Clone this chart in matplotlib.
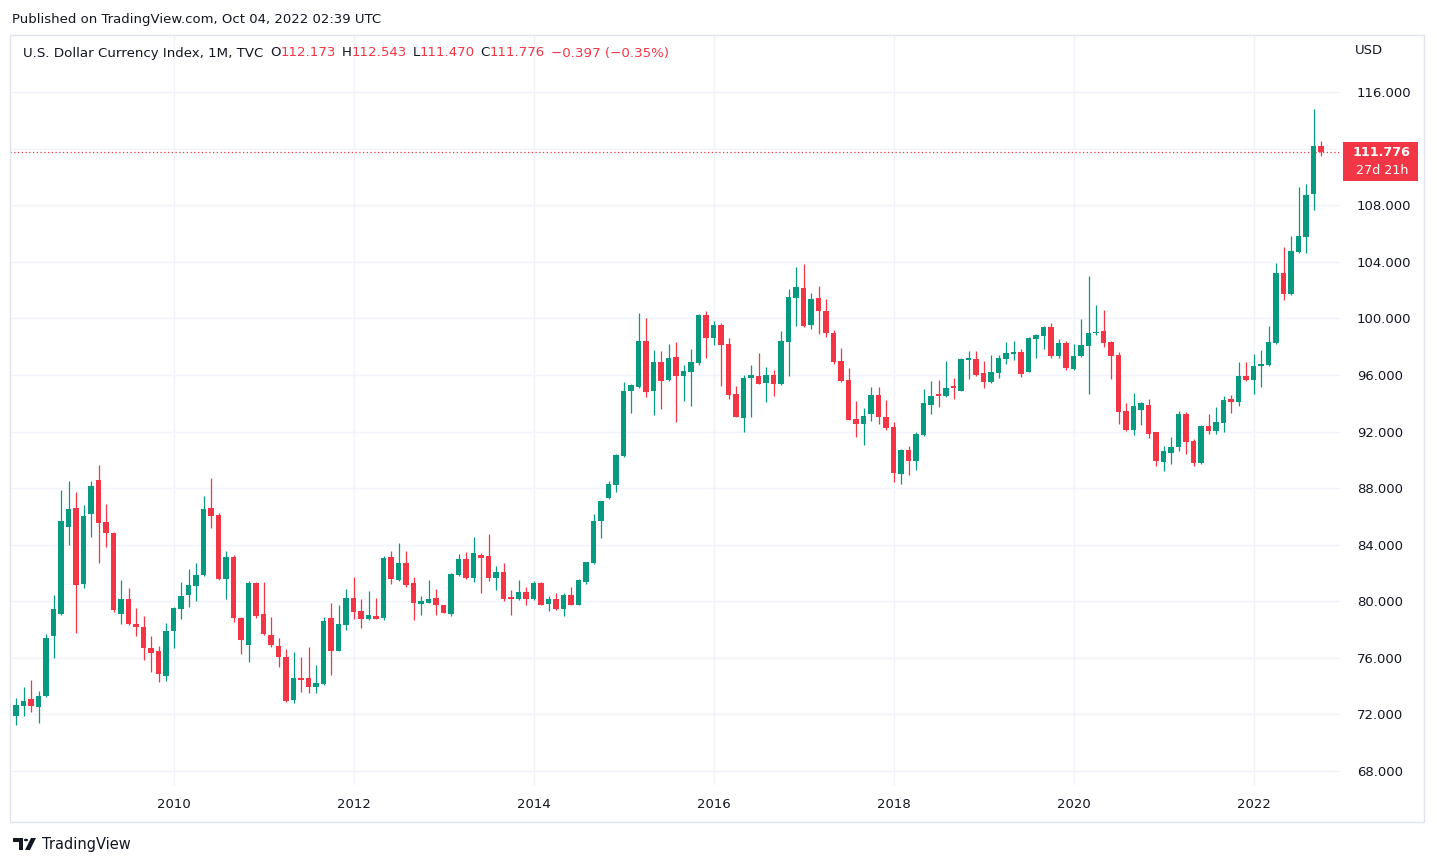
import numpy as np
import matplotlib
matplotlib.use("Agg")
import matplotlib.pyplot as plt
from matplotlib.patches import Rectangle, Polygon, Circle

# DXY monthly candles, Apr 2008 .. Oct 2022
opens = [71.88, 72.59, 73.06, 72.52, 73.29, 77.53, 79.13, 85.22, 86.61, 81.20,
         86.14, 88.59, 85.62, 84.85, 79.08, 80.19, 78.42, 78.21, 76.73, 76.45,
         74.71, 77.88, 79.44, 80.42, 81.06, 81.84, 86.61, 86.12, 81.55, 83.15,
         78.85, 76.88, 81.26, 79.09, 77.63, 76.86, 76.09, 73.05, 74.56, 74.56,
         73.95, 74.16, 78.81, 76.51, 78.35, 80.21, 79.30, 78.76, 78.97, 78.81,
         83.11, 81.52, 82.69, 81.29, 79.84, 79.91, 80.23, 79.70, 79.13, 81.87,
         82.97, 81.66, 83.25, 83.18, 81.66, 82.06, 80.30, 80.16, 80.65, 80.16,
         81.29, 79.81, 80.16, 79.46, 80.44, 79.74, 81.36, 82.69, 85.70, 87.28,
         88.22, 90.26, 94.84, 95.16, 98.40, 94.84, 96.92, 95.61, 97.28, 95.89,
         96.24, 96.85, 100.23, 98.64, 99.53, 98.18, 94.63, 92.96, 95.79, 95.91,
         95.44, 95.98, 95.34, 98.35, 101.47, 102.15, 99.55, 101.44, 100.52, 98.95,
         96.99, 95.65, 92.89, 92.53, 93.24, 94.58, 93.03, 92.32, 89.00, 90.69,
         89.92, 91.75, 93.88, 94.66, 94.51, 95.23, 94.85, 97.08, 97.15, 96.16,
         95.53, 96.16, 97.15, 97.50, 97.64, 96.23, 98.55, 98.76, 99.39, 97.31,
         98.25, 96.43, 97.33, 98.06, 98.98, 99.10, 98.32, 97.40, 93.43, 92.10,
         93.52, 93.85, 91.94, 89.83, 90.47, 90.90, 93.21, 91.30, 89.76, 92.36,
         92.01, 92.58, 94.28, 94.07, 95.91, 95.63, 96.62, 96.69, 98.25, 103.22,
         101.73, 104.71, 105.77, 108.81, 112.173]
highs = [73.18, 73.91, 74.40, 73.62, 77.65, 80.42, 87.88, 88.52, 87.74, 86.82,
         88.52, 89.65, 86.89, 84.92, 81.53, 80.96, 79.55, 78.99, 77.51, 76.87,
         78.49, 79.60, 81.39, 82.31, 82.73, 87.46, 88.73, 86.24, 83.55, 83.29,
         78.90, 81.42, 81.35, 81.35, 78.91, 77.42, 76.65, 76.44, 76.09, 76.79,
         75.47, 78.88, 79.86, 79.72, 80.86, 81.74, 80.14, 80.73, 80.23, 83.18,
         83.53, 84.09, 83.53, 81.71, 80.37, 81.50, 80.87, 79.72, 81.99, 83.32,
         83.46, 84.51, 83.39, 84.73, 82.48, 82.69, 80.80, 81.50, 81.00, 81.43,
         81.36, 80.37, 80.58, 80.58, 81.00, 81.57, 82.76, 86.20, 87.00, 88.47,
         90.38, 95.52, 95.38, 100.38, 100.02, 97.77, 97.70, 98.19, 98.33, 96.71,
         97.84, 100.31, 100.52, 99.81, 99.67, 98.60, 95.20, 95.98, 96.69, 97.54,
         96.55, 96.34, 99.10, 102.08, 103.64, 103.85, 101.80, 102.29, 101.37, 99.20,
         97.91, 96.50, 94.16, 93.67, 95.15, 95.15, 94.23, 92.67, 90.75, 90.98,
         91.97, 95.01, 95.58, 95.65, 96.99, 95.81, 97.20, 97.71, 97.71, 97.00,
         97.43, 97.43, 98.34, 98.41, 97.85, 98.69, 98.90, 99.46, 99.67, 98.55,
         98.39, 98.18, 99.95, 103.00, 100.95, 100.59, 98.40, 97.61, 94.00, 94.70,
         94.07, 94.28, 92.00, 90.95, 91.61, 93.43, 93.36, 91.44, 92.43, 93.21,
         93.71, 94.49, 94.56, 96.90, 96.90, 97.47, 97.75, 99.46, 103.92, 105.06,
         105.82, 109.28, 109.47, 114.80, 112.543]
lows = [71.22, 71.88, 72.16, 71.36, 73.20, 75.98, 79.01, 83.95, 77.74, 80.92,
        84.52, 82.68, 83.81, 79.22, 78.38, 78.31, 77.53, 75.88, 74.99, 74.26,
        74.35, 76.66, 78.73, 79.58, 80.05, 81.80, 85.15, 81.50, 80.14, 78.52,
        76.26, 75.70, 78.84, 77.60, 76.79, 75.33, 72.90, 72.84, 73.60, 73.53,
        73.53, 74.10, 74.79, 76.45, 78.00, 78.77, 78.14, 78.69, 78.74, 78.67,
        81.24, 81.45, 81.03, 78.64, 79.00, 79.88, 79.06, 79.18, 78.99, 81.80,
        81.60, 81.38, 80.56, 81.43, 80.80, 80.02, 79.04, 80.10, 79.74, 80.09,
        79.70, 79.32, 79.39, 78.97, 79.70, 79.70, 81.22, 82.65, 84.50, 87.21,
        87.72, 90.20, 93.29, 95.09, 94.46, 93.19, 93.62, 95.54, 92.65, 94.13,
        93.83, 96.67, 97.23, 98.08, 95.22, 94.30, 92.99, 91.96, 93.03, 95.34,
        94.09, 94.52, 95.30, 95.93, 99.46, 99.40, 99.27, 98.91, 98.70, 96.80,
        95.50, 92.80, 91.61, 91.05, 92.75, 92.53, 92.11, 88.43, 88.29, 88.92,
        89.28, 91.70, 93.24, 93.74, 94.44, 94.27, 94.83, 95.74, 95.95, 95.04,
        95.46, 95.81, 96.80, 97.08, 95.88, 96.20, 97.22, 97.85, 97.17, 97.17,
        96.34, 96.36, 97.30, 94.66, 98.84, 97.99, 95.72, 92.53, 92.03, 91.75,
        92.46, 91.54, 89.55, 89.20, 89.69, 90.61, 90.40, 89.55, 89.69, 91.80,
        91.80, 91.94, 93.29, 93.78, 95.56, 94.63, 95.13, 96.62, 98.20, 101.30,
        101.65, 104.65, 104.64, 107.68, 111.470]
closes = [72.64, 72.92, 72.59, 73.27, 77.41, 79.48, 85.69, 86.54, 81.13, 86.05,
          88.16, 85.51, 84.80, 79.36, 80.19, 78.38, 78.16, 76.68, 76.31, 74.85,
          77.93, 79.55, 80.40, 81.18, 81.88, 86.54, 86.00, 81.55, 83.15, 78.80,
          77.25, 81.26, 78.95, 77.70, 76.88, 76.05, 72.98, 74.56, 74.44, 73.95,
          74.21, 78.60, 76.47, 78.40, 80.21, 79.26, 78.77, 79.04, 78.76, 83.04,
          81.59, 82.69, 81.17, 79.91, 80.02, 80.16, 79.77, 79.20, 81.92, 82.97,
          81.66, 83.39, 83.06, 81.66, 82.06, 80.16, 80.16, 80.65, 80.16, 81.29,
          79.74, 80.16, 79.46, 80.44, 79.74, 81.50, 82.76, 85.64, 87.10, 88.26,
          90.31, 94.88, 95.31, 98.40, 94.77, 96.92, 95.54, 97.21, 95.89, 96.29,
          96.92, 100.23, 98.64, 99.53, 98.13, 94.59, 93.03, 95.77, 95.98, 95.39,
          95.98, 95.34, 98.39, 101.51, 102.22, 99.46, 101.37, 100.54, 98.98, 96.92,
          95.58, 92.82, 92.53, 93.10, 94.58, 93.03, 92.25, 89.07, 90.69, 89.92,
          91.83, 94.02, 94.51, 94.51, 95.08, 95.11, 97.15, 97.22, 96.02, 95.53,
          96.23, 97.22, 97.57, 97.64, 96.09, 98.62, 98.83, 99.39, 97.31, 98.27,
          96.50, 97.33, 98.11, 98.96, 99.05, 98.27, 97.35, 93.38, 92.10, 93.78,
          93.99, 91.82, 89.91, 90.59, 90.87, 93.22, 91.25, 89.76, 92.36, 92.01,
          92.65, 94.21, 94.07, 95.91, 95.63, 96.62, 96.76, 98.32, 103.22, 101.73,
          104.78, 105.82, 108.72, 112.18, 111.776]

first_year, first_month = 2008, 4
year_labels = [2010, 2012, 2014, 2016, 2018, 2020, 2022]
price_grid = [68, 72, 76, 80, 84, 88, 92, 96, 100, 104, 108, 112, 116]
# 112 is hidden behind the last-price tag
price_labels = [68, 72, 76, 80, 84, 88, 92, 96, 100, 104, 108, 116]
last_price = 111.776
countdown = "27d 21h"

UP = "#089981"
DOWN = "#F23645"
TEXT = "#131722"
GRID = "#f0f3fa"
BORDER = "#e0e3eb"

W, H = 1437, 866
fig = plt.figure(figsize=(W / 100, H / 100), dpi=100)
fig.patch.set_facecolor("white")


def fx(x):
    return x / W


def fy(y):
    return 1 - y / H


ax = fig.add_axes([fx(10), fy(785), fx(1340) - fx(10), fy(35) - fy(785)])

o = np.array(opens)
h = np.array(highs)
l = np.array(lows)
c = np.array(closes)
idx = np.arange(len(o))
cols = [UP if cc >= oo else DOWN for oo, cc in zip(o, c)]

# grid
for p in price_grid:
    ax.axhline(p, color=GRID, lw=1, zorder=0)
year_pos = [(y - first_year) * 12 + 1 - first_month for y in year_labels]
for xp in year_pos:
    ax.axvline(xp, color=GRID, lw=1, zorder=0)

# candles
ax.vlines(idx, l, h, colors=cols, lw=0.9, zorder=2)
body = np.maximum(np.abs(c - o), 0.08)
ax.bar(idx, body, bottom=np.minimum(o, c), width=0.68, color=cols, lw=0, zorder=3)

# last price line
ax.axhline(last_price, color=DOWN, lw=0.9, ls=(0, (1, 2)), zorder=1)

ax.set_xlim(-0.8, 176.53)
ax.set_ylim(67.01, 120.03)
for s in ax.spines.values():
    s.set_visible(False)

ax.set_xticks(year_pos)
ax.set_xticklabels([str(y) for y in year_labels])
ax.set_yticks(price_labels)
ax.set_yticklabels([f"{p:.3f}" for p in price_labels])
ax.yaxis.tick_right()
ax.tick_params(axis="y", length=0, pad=12, labelsize=9.5, labelcolor=TEXT)
ax.tick_params(axis="x", length=0, pad=9.5, labelsize=9.5, labelcolor=TEXT)

# outer frame
fig.add_artist(Rectangle((fx(10), fy(822)), fx(1424) - fx(10), fy(35) - fy(822),
                         fill=False, edgecolor=BORDER, lw=1, transform=fig.transFigure))

# top note
fig.text(fx(12), fy(19), "Published on TradingView.com, Oct 04, 2022 02:39 UTC",
         color=TEXT, fontsize=9.5, va="center", ha="left")

# legend header, pieces chained one after another
t = fig.text(fx(23), fy(53), "U.S. Dollar Currency Index, 1M, TVC",
             color=TEXT, fontsize=9.6, va="center", ha="left")
pieces = [("O", TEXT, 5), ("112.173", DOWN, 0), ("H", TEXT, 4), ("112.543", DOWN, 0),
          ("L", TEXT, 4), ("111.470", DOWN, 0), ("C", TEXT, 4), ("111.776", DOWN, 0),
          ("\u22120.397 (\u22120.35%)", DOWN, 4)]
last = t
for s, col, gap in pieces:
    last = ax.annotate(s, xy=(1, 0), xycoords=last, xytext=(gap, 0),
                       textcoords="offset points", color=col, fontsize=9.6,
                       va="bottom", ha="left", annotation_clip=False)

# currency label
fig.text(fx(1369), fy(50), "USD", color=TEXT, fontsize=9.5, va="center", ha="center")

# price tag
fig.add_artist(Rectangle((fx(1343), fy(181)), fx(1418) - fx(1343), fy(142) - fy(181),
                         facecolor=DOWN, edgecolor="none", transform=fig.transFigure))
fig.text(fx(1382), fy(152.5), f"{last_price:.3f}", color="white", fontsize=9.2,
         fontweight="bold", va="center", ha="center")
fig.text(fx(1382), fy(171), countdown, color="white", fontsize=9.2,
         va="center", ha="center")

# TradingView logo
fig.add_artist(Polygon([(fx(13), fy(838)), (fx(23), fy(838)), (fx(23), fy(850)),
                        (fx(18.5), fy(850)), (fx(18.5), fy(842)), (fx(13), fy(842))],
                       closed=True, facecolor=TEXT, edgecolor="none",
                       transform=fig.transFigure))
fig.add_artist(Circle((fx(26), fy(840)), 2.1 / W, facecolor=TEXT, edgecolor="none",
                      transform=fig.transFigure))
fig.add_artist(Polygon([(fx(31), fy(838)), (fx(36), fy(838)), (fx(30), fy(850)),
                        (fx(25), fy(850))], closed=True, facecolor=TEXT,
                       edgecolor="none", transform=fig.transFigure))
fig.text(fx(42), fy(844), "TradingView", color=TEXT, fontsize=10.5,
         va="center", ha="left")

fig.savefig("out.png", dpi=100, facecolor="white")
